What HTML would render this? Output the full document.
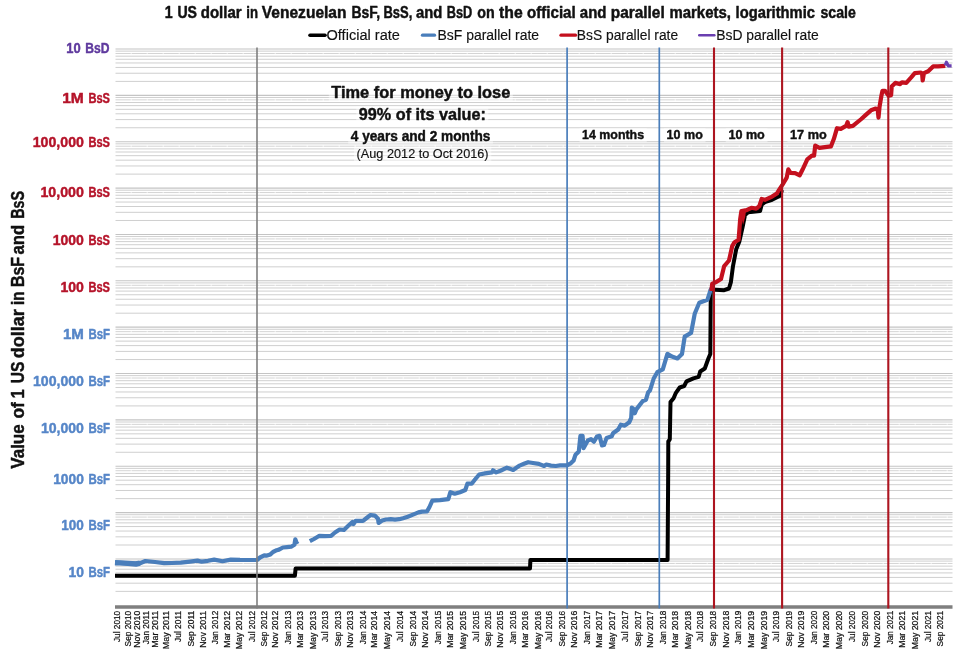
<!DOCTYPE html>
<html><head><meta charset="utf-8"><title>1 US dollar in Venezuelan BsF, BsS, and BsD</title>
<style>html,body{margin:0;padding:0;background:#fff;}body{width:960px;height:657px;overflow:hidden;font-family:"Liberation Sans",sans-serif;}svg{display:block;will-change:transform;}text{font-family:"Liberation Sans",sans-serif;}</style>
</head><body>
<svg width="960" height="657" viewBox="0 0 960 657">
<rect x="0" y="0" width="960" height="657" fill="#ffffff"/>
<g stroke="#cfcfcf" stroke-width="1" fill="none">
<line x1="115.5" x2="952.5" y1="591.36" y2="591.36"/>
<line x1="115.5" x2="952.5" y1="583.20" y2="583.20"/>
<line x1="115.5" x2="952.5" y1="577.41" y2="577.41"/>
<line x1="115.5" x2="952.5" y1="572.92" y2="572.92"/>
<line x1="115.5" x2="952.5" y1="569.24" y2="569.24"/>
<line x1="115.5" x2="952.5" y1="566.14" y2="566.14"/>
<line x1="115.5" x2="952.5" y1="563.45" y2="563.45" stroke-dasharray="15.3 0.7" stroke="#d4d4d4"/>
<line x1="115.5" x2="952.5" y1="561.08" y2="561.08"/>
<line x1="115.5" x2="952.5" y1="545.00" y2="545.00"/>
<line x1="115.5" x2="952.5" y1="536.84" y2="536.84"/>
<line x1="115.5" x2="952.5" y1="531.05" y2="531.05"/>
<line x1="115.5" x2="952.5" y1="526.56" y2="526.56"/>
<line x1="115.5" x2="952.5" y1="522.88" y2="522.88"/>
<line x1="115.5" x2="952.5" y1="519.78" y2="519.78"/>
<line x1="115.5" x2="952.5" y1="517.09" y2="517.09" stroke-dasharray="15.3 0.7" stroke="#d4d4d4"/>
<line x1="115.5" x2="952.5" y1="514.72" y2="514.72"/>
<line x1="115.5" x2="952.5" y1="498.64" y2="498.64"/>
<line x1="115.5" x2="952.5" y1="490.48" y2="490.48"/>
<line x1="115.5" x2="952.5" y1="484.69" y2="484.69"/>
<line x1="115.5" x2="952.5" y1="480.20" y2="480.20"/>
<line x1="115.5" x2="952.5" y1="476.52" y2="476.52"/>
<line x1="115.5" x2="952.5" y1="473.42" y2="473.42"/>
<line x1="115.5" x2="952.5" y1="470.73" y2="470.73" stroke-dasharray="15.3 0.7" stroke="#d4d4d4"/>
<line x1="115.5" x2="952.5" y1="468.36" y2="468.36"/>
<line x1="115.5" x2="952.5" y1="452.28" y2="452.28"/>
<line x1="115.5" x2="952.5" y1="444.12" y2="444.12"/>
<line x1="115.5" x2="952.5" y1="438.33" y2="438.33"/>
<line x1="115.5" x2="952.5" y1="433.84" y2="433.84"/>
<line x1="115.5" x2="952.5" y1="430.16" y2="430.16"/>
<line x1="115.5" x2="952.5" y1="427.06" y2="427.06"/>
<line x1="115.5" x2="952.5" y1="424.37" y2="424.37" stroke-dasharray="15.3 0.7" stroke="#d4d4d4"/>
<line x1="115.5" x2="952.5" y1="422.00" y2="422.00"/>
<line x1="115.5" x2="952.5" y1="405.92" y2="405.92"/>
<line x1="115.5" x2="952.5" y1="397.76" y2="397.76"/>
<line x1="115.5" x2="952.5" y1="391.97" y2="391.97"/>
<line x1="115.5" x2="952.5" y1="387.48" y2="387.48"/>
<line x1="115.5" x2="952.5" y1="383.80" y2="383.80"/>
<line x1="115.5" x2="952.5" y1="380.70" y2="380.70"/>
<line x1="115.5" x2="952.5" y1="378.01" y2="378.01" stroke-dasharray="15.3 0.7" stroke="#d4d4d4"/>
<line x1="115.5" x2="952.5" y1="375.64" y2="375.64"/>
<line x1="115.5" x2="952.5" y1="359.56" y2="359.56"/>
<line x1="115.5" x2="952.5" y1="351.40" y2="351.40"/>
<line x1="115.5" x2="952.5" y1="345.61" y2="345.61"/>
<line x1="115.5" x2="952.5" y1="341.12" y2="341.12"/>
<line x1="115.5" x2="952.5" y1="337.44" y2="337.44"/>
<line x1="115.5" x2="952.5" y1="334.34" y2="334.34"/>
<line x1="115.5" x2="952.5" y1="331.65" y2="331.65" stroke-dasharray="15.3 0.7" stroke="#d4d4d4"/>
<line x1="115.5" x2="952.5" y1="329.28" y2="329.28"/>
<line x1="115.5" x2="952.5" y1="313.20" y2="313.20"/>
<line x1="115.5" x2="952.5" y1="305.04" y2="305.04"/>
<line x1="115.5" x2="952.5" y1="299.25" y2="299.25"/>
<line x1="115.5" x2="952.5" y1="294.76" y2="294.76"/>
<line x1="115.5" x2="952.5" y1="291.08" y2="291.08"/>
<line x1="115.5" x2="952.5" y1="287.98" y2="287.98"/>
<line x1="115.5" x2="952.5" y1="285.29" y2="285.29" stroke-dasharray="15.3 0.7" stroke="#d4d4d4"/>
<line x1="115.5" x2="952.5" y1="282.92" y2="282.92"/>
<line x1="115.5" x2="952.5" y1="266.84" y2="266.84"/>
<line x1="115.5" x2="952.5" y1="258.68" y2="258.68"/>
<line x1="115.5" x2="952.5" y1="252.89" y2="252.89"/>
<line x1="115.5" x2="952.5" y1="248.40" y2="248.40"/>
<line x1="115.5" x2="952.5" y1="244.72" y2="244.72"/>
<line x1="115.5" x2="952.5" y1="241.62" y2="241.62"/>
<line x1="115.5" x2="952.5" y1="238.93" y2="238.93" stroke-dasharray="15.3 0.7" stroke="#d4d4d4"/>
<line x1="115.5" x2="952.5" y1="236.56" y2="236.56"/>
<line x1="115.5" x2="952.5" y1="220.48" y2="220.48"/>
<line x1="115.5" x2="952.5" y1="212.32" y2="212.32"/>
<line x1="115.5" x2="952.5" y1="206.53" y2="206.53"/>
<line x1="115.5" x2="952.5" y1="202.04" y2="202.04"/>
<line x1="115.5" x2="952.5" y1="198.36" y2="198.36"/>
<line x1="115.5" x2="952.5" y1="195.26" y2="195.26"/>
<line x1="115.5" x2="952.5" y1="192.57" y2="192.57" stroke-dasharray="15.3 0.7" stroke="#d4d4d4"/>
<line x1="115.5" x2="952.5" y1="190.20" y2="190.20"/>
<line x1="115.5" x2="952.5" y1="174.12" y2="174.12"/>
<line x1="115.5" x2="952.5" y1="165.96" y2="165.96"/>
<line x1="115.5" x2="952.5" y1="160.17" y2="160.17"/>
<line x1="115.5" x2="952.5" y1="155.68" y2="155.68"/>
<line x1="115.5" x2="952.5" y1="152.00" y2="152.00"/>
<line x1="115.5" x2="952.5" y1="148.90" y2="148.90"/>
<line x1="115.5" x2="952.5" y1="146.21" y2="146.21" stroke-dasharray="15.3 0.7" stroke="#d4d4d4"/>
<line x1="115.5" x2="952.5" y1="143.84" y2="143.84"/>
<line x1="115.5" x2="952.5" y1="127.76" y2="127.76"/>
<line x1="115.5" x2="952.5" y1="119.60" y2="119.60"/>
<line x1="115.5" x2="952.5" y1="113.81" y2="113.81"/>
<line x1="115.5" x2="952.5" y1="109.32" y2="109.32"/>
<line x1="115.5" x2="952.5" y1="105.64" y2="105.64"/>
<line x1="115.5" x2="952.5" y1="102.54" y2="102.54"/>
<line x1="115.5" x2="952.5" y1="99.85" y2="99.85" stroke-dasharray="15.3 0.7" stroke="#d4d4d4"/>
<line x1="115.5" x2="952.5" y1="97.48" y2="97.48"/>
<line x1="115.5" x2="952.5" y1="81.40" y2="81.40"/>
<line x1="115.5" x2="952.5" y1="73.24" y2="73.24"/>
<line x1="115.5" x2="952.5" y1="67.45" y2="67.45"/>
<line x1="115.5" x2="952.5" y1="62.96" y2="62.96"/>
<line x1="115.5" x2="952.5" y1="59.28" y2="59.28"/>
<line x1="115.5" x2="952.5" y1="56.18" y2="56.18"/>
<line x1="115.5" x2="952.5" y1="53.49" y2="53.49" stroke-dasharray="15.3 0.7" stroke="#d4d4d4"/>
<line x1="115.5" x2="952.5" y1="51.12" y2="51.12"/>
</g>
<g stroke="#c4c4c4" stroke-width="1.1" fill="none">
<line x1="115.5" x2="952.5" y1="558.96" y2="558.96"/>
<line x1="115.5" x2="952.5" y1="512.60" y2="512.60"/>
<line x1="115.5" x2="952.5" y1="466.24" y2="466.24"/>
<line x1="115.5" x2="952.5" y1="419.88" y2="419.88"/>
<line x1="115.5" x2="952.5" y1="373.52" y2="373.52"/>
<line x1="115.5" x2="952.5" y1="327.16" y2="327.16"/>
<line x1="115.5" x2="952.5" y1="280.80" y2="280.80"/>
<line x1="115.5" x2="952.5" y1="234.44" y2="234.44"/>
<line x1="115.5" x2="952.5" y1="188.08" y2="188.08"/>
<line x1="115.5" x2="952.5" y1="141.72" y2="141.72"/>
<line x1="115.5" x2="952.5" y1="95.36" y2="95.36"/>
<line x1="115.5" x2="952.5" y1="49.00" y2="49.00"/>
</g>
<polyline points="115.0,575.7 294.9,575.7 295.6,568.5 530.0,568.5 530.4,559.9 667.6,559.9 668.2,470.0 668.3,441.5 669.8,439.3 670.5,402.0 673.6,398.2 675.9,392.8 679.7,387.5 684.2,386.0 686.5,381.4 693.4,378.4 698.7,376.8 700.2,371.5 704.8,368.5 708.4,358.5 710.3,353.9 710.8,289.6 724.2,290.2 729.0,288.5 730.9,282.1 733.0,266.1 736.2,249.3 739.4,241.4 742.6,227.0 744.2,219.0 745.0,215.0 748.2,212.3 760.1,211.0 761.7,204.6 764.9,202.2 772.1,199.8 780.1,195.8 782.0,190.0" fill="none" stroke="#000000" stroke-width="4.0" stroke-linejoin="round" stroke-linecap="butt"/>
<polyline points="115.0,562.7 120.0,562.9 128.0,563.4 136.0,564.0 140.0,563.2" fill="none" stroke="#4a7ebb" stroke-width="5.4" stroke-linejoin="round" stroke-linecap="butt"/>
<polyline points="115.0,562.7 125.0,563.2 135.0,563.9 140.0,563.2 145.4,561.0 155.0,562.0 164.2,563.1 172.0,563.0 180.8,562.7 190.0,561.6 197.5,560.6 201.7,561.7 208.0,560.8 214.2,559.6 222.5,561.2 230.8,559.6 240.0,559.9 251.7,560.0 256.9,560.0 260.0,557.5 264.2,555.4 267.0,555.6 270.4,554.4 273.0,552.0 276.7,550.2 279.0,549.6 282.9,547.5 287.0,547.1 291.2,546.7 294.4,544.8 295.3,539.3 296.3,542.0 297.5,544.0" fill="none" stroke="#4a7ebb" stroke-width="4.2" stroke-linejoin="round" stroke-linecap="butt"/>
<polyline points="309.8,541.2 314.0,539.0 319.4,535.8 325.0,536.2 331.1,535.8 335.0,532.5 339.6,529.5 343.9,529.9 348.0,526.0 352.4,522.0 353.5,524.0 355.6,520.9 363.0,520.9 366.0,518.5 370.5,515.0 374.8,515.6 378.0,518.8 378.6,523.0 382.2,520.5 386.0,519.5 390.8,519.2 395.0,519.6 399.3,519.2 403.0,518.2 407.8,516.7 413.0,514.6 418.4,512.4 422.0,511.6 427.0,511.4 429.5,507.0 432.3,500.7 440.0,500.2 448.3,499.2 450.4,492.2 454.7,493.7 460.0,492.2 465.3,490.0 467.4,483.7 471.7,483.7 475.0,479.5 479.2,474.5 485.0,473.4 492.0,472.4 493.0,470.3 496.2,472.4 501.0,470.5 506.9,467.7 513.2,469.9 516.0,468.0 519.6,465.6 524.0,463.8 528.2,462.2 533.0,463.0 538.8,463.9 544.1,466.0 546.3,464.5 551.0,465.6 555.8,466.0 560.0,465.4 567.1,465.3 571.0,463.1 573.6,460.5 575.5,454.7 578.8,451.4 580.4,435.9 582.6,435.9 583.5,448.2 587.8,440.5 591.0,439.2 593.9,441.7 596.9,436.6 599.5,435.9 602.0,445.4 604.0,445.0 606.6,437.9 611.7,436.3 613.0,433.3 618.2,429.5 620.8,424.7 624.7,425.6 629.2,422.3 631.2,417.8 631.8,407.5 634.0,409.4 634.8,413.3 636.3,409.4 642.8,401.0 646.0,399.7 648.2,392.2 650.0,390.4 653.7,378.5 657.3,372.2 662.8,369.4 667.4,353.9 671.9,356.6 677.4,358.5 682.0,353.9 684.7,336.6 691.1,332.9 694.7,313.8 699.3,302.8 707.5,299.7 710.3,290.9 711.3,288.3" fill="none" stroke="#4a7ebb" stroke-width="4.2" stroke-linejoin="round" stroke-linecap="butt"/>
<polyline points="711.4,290.9 712.2,283.7 716.2,282.1 721.0,278.9 724.2,266.1 729.0,260.5 732.2,246.2 734.6,242.2 738.6,239.8 740.2,219.0 741.4,211.0 746.6,210.2 751.4,207.8 756.2,208.6 759.3,206.2 761.7,199.0 764.9,199.8 772.1,196.6 776.9,193.5 779.1,189.8 782.2,185.2 786.7,177.6 788.3,169.3 790.5,172.8 795.1,173.1 799.7,175.3 802.7,169.3 807.3,159.4 811.9,155.6 814.1,155.6 815.2,145.7 819.5,147.9 825.0,147.2 830.9,146.4 833.9,138.8 837.0,128.2 840.8,128.9 846.1,125.9 847.6,122.1 848.8,126.6 852.9,125.9 861.3,119.0 866.1,114.6 871.0,110.3 875.8,108.5 877.7,109.7 878.5,117.6 879.5,107.2 881.3,96.3 882.5,90.8 885.0,90.8 888.6,95.7 891.1,95.1 891.7,86.5 895.3,82.9 900.2,84.1 902.0,82.3 906.3,82.9 911.2,77.4 914.8,73.1 920.9,72.5 922.1,73.8 922.7,80.5 923.9,73.1 928.2,71.3 933.1,66.4 938.0,66.4 945.3,65.8" fill="none" stroke="#c4101e" stroke-width="4.2" stroke-linejoin="round" stroke-linecap="butt"/>
<polygon points="740.6,212.5 746,210.5 745.2,217 743,225" fill="#c4101e"/>
<polyline points="945.3,65.4 946.4,62.2 948.3,65.8 951.6,65.8" fill="none" stroke="#6a3fb0" stroke-width="3.2" stroke-linejoin="round" stroke-linecap="butt"/>
<line x1="115.0" x2="952.5" y1="607.0" y2="607.0" stroke="#7f7f7f" stroke-width="3.5"/>
<line x1="257.0" x2="257.0" y1="47.5" y2="608.6" stroke="#7f7f7f" stroke-width="1.6"/>
<line x1="567.1" x2="567.1" y1="47.5" y2="608.6" stroke="#4a7ebb" stroke-width="1.7"/>
<line x1="659.3" x2="659.3" y1="47.5" y2="608.6" stroke="#4a7ebb" stroke-width="1.7"/>
<line x1="714.0" x2="714.0" y1="47.5" y2="608.6" stroke="#ad1520" stroke-width="2.1"/>
<line x1="782.1" x2="782.1" y1="47.5" y2="608.6" stroke="#ad1520" stroke-width="2.1"/>
<line x1="888.3" x2="888.3" y1="47.5" y2="608.6" stroke="#ad1520" stroke-width="2.1"/>
<text x="164.8" y="18.1" font-size="15.6" font-weight="bold" fill="#111" stroke="#111" stroke-width="0.45" stroke-linejoin="round" text-anchor="start" textLength="7.9" lengthAdjust="spacingAndGlyphs">1</text>
<text x="177.4" y="18.1" font-size="15.6" font-weight="bold" fill="#111" stroke="#111" stroke-width="0.45" stroke-linejoin="round" text-anchor="start" textLength="19.6" lengthAdjust="spacingAndGlyphs">US</text>
<text x="200.75" y="18.1" font-size="15.6" font-weight="bold" fill="#111" stroke="#111" stroke-width="0.45" stroke-linejoin="round" text-anchor="start" textLength="40.85" lengthAdjust="spacingAndGlyphs">dollar</text>
<text x="246.3" y="18.1" font-size="15.6" font-weight="bold" fill="#111" stroke="#111" stroke-width="0.45" stroke-linejoin="round" text-anchor="start" textLength="11.7" lengthAdjust="spacingAndGlyphs">in</text>
<text x="261.8" y="18.1" font-size="15.6" font-weight="bold" fill="#111" stroke="#111" stroke-width="0.45" stroke-linejoin="round" text-anchor="start" textLength="84.7" lengthAdjust="spacingAndGlyphs">Venezuelan</text>
<text x="351.5" y="18.1" font-size="15.6" font-weight="bold" fill="#111" stroke="#111" stroke-width="0.45" stroke-linejoin="round" text-anchor="start" textLength="28.6" lengthAdjust="spacingAndGlyphs">BsF,</text>
<text x="383.5" y="18.1" font-size="15.6" font-weight="bold" fill="#111" stroke="#111" stroke-width="0.45" stroke-linejoin="round" text-anchor="start" textLength="28.8" lengthAdjust="spacingAndGlyphs">BsS,</text>
<text x="416.0" y="18.1" font-size="15.6" font-weight="bold" fill="#111" stroke="#111" stroke-width="0.45" stroke-linejoin="round" text-anchor="start" textLength="26.3" lengthAdjust="spacingAndGlyphs">and</text>
<text x="446.8" y="18.1" font-size="15.6" font-weight="bold" fill="#111" stroke="#111" stroke-width="0.45" stroke-linejoin="round" text-anchor="start" textLength="25.5" lengthAdjust="spacingAndGlyphs">BsD</text>
<text x="477.3" y="18.1" font-size="15.6" font-weight="bold" fill="#111" stroke="#111" stroke-width="0.45" stroke-linejoin="round" text-anchor="start" textLength="17.4" lengthAdjust="spacingAndGlyphs">on</text>
<text x="499.1" y="18.1" font-size="15.6" font-weight="bold" fill="#111" stroke="#111" stroke-width="0.45" stroke-linejoin="round" text-anchor="start" textLength="23.6" lengthAdjust="spacingAndGlyphs">the</text>
<text x="527.1" y="18.1" font-size="15.6" font-weight="bold" fill="#111" stroke="#111" stroke-width="0.45" stroke-linejoin="round" text-anchor="start" textLength="48.6" lengthAdjust="spacingAndGlyphs">official</text>
<text x="579.8" y="18.1" font-size="15.6" font-weight="bold" fill="#111" stroke="#111" stroke-width="0.45" stroke-linejoin="round" text-anchor="start" textLength="26.7" lengthAdjust="spacingAndGlyphs">and</text>
<text x="610.75" y="18.1" font-size="15.6" font-weight="bold" fill="#111" stroke="#111" stroke-width="0.45" stroke-linejoin="round" text-anchor="start" textLength="53.95" lengthAdjust="spacingAndGlyphs">parallel</text>
<text x="669.4" y="18.1" font-size="15.6" font-weight="bold" fill="#111" stroke="#111" stroke-width="0.45" stroke-linejoin="round" text-anchor="start" textLength="61.5" lengthAdjust="spacingAndGlyphs">markets,</text>
<text x="735.6" y="18.1" font-size="15.6" font-weight="bold" fill="#111" stroke="#111" stroke-width="0.45" stroke-linejoin="round" text-anchor="start" textLength="79.4" lengthAdjust="spacingAndGlyphs">logarithmic</text>
<text x="820.5" y="18.1" font-size="15.6" font-weight="bold" fill="#111" stroke="#111" stroke-width="0.45" stroke-linejoin="round" text-anchor="start" textLength="35.3" lengthAdjust="spacingAndGlyphs">scale</text>
<line x1="310" x2="325" y1="35.2" y2="35.2" stroke="#000000" stroke-width="3.6" stroke-linecap="round"/>
<text x="326.5" y="39.7" font-size="15.2" font-weight="normal" fill="#111" stroke="#111" stroke-width="0.15" stroke-linejoin="round" text-anchor="start" textLength="73.4" lengthAdjust="spacingAndGlyphs">Official rate</text>
<line x1="422.5" x2="434.5" y1="35.2" y2="35.2" stroke="#4a7ebb" stroke-width="3.3" stroke-linecap="round"/>
<text x="437.5" y="39.7" font-size="15.2" font-weight="normal" fill="#111" stroke="#111" stroke-width="0.15" stroke-linejoin="round" text-anchor="start" textLength="101.6" lengthAdjust="spacingAndGlyphs">BsF parallel rate</text>
<line x1="561" x2="575.5" y1="35.2" y2="35.2" stroke="#c4101e" stroke-width="3.3" stroke-linecap="round"/>
<text x="576.8000000000001" y="39.7" font-size="15.2" font-weight="normal" fill="#111" stroke="#111" stroke-width="0.15" stroke-linejoin="round" text-anchor="start" textLength="101.3" lengthAdjust="spacingAndGlyphs">BsS parallel rate</text>
<line x1="699.2" x2="714.4" y1="35.2" y2="35.2" stroke="#6a3fb0" stroke-width="2.4" stroke-linecap="round"/>
<text x="716.2" y="39.7" font-size="15.2" font-weight="normal" fill="#111" stroke="#111" stroke-width="0.15" stroke-linejoin="round" text-anchor="start" textLength="102.6" lengthAdjust="spacingAndGlyphs">BsD parallel rate</text>
<text x="66.2" y="53.1" font-size="14.5" font-weight="bold" fill="#5f3a9e" stroke="#5f3a9e" stroke-width="0.45" stroke-linejoin="round" text-anchor="start" textLength="14.4" lengthAdjust="spacingAndGlyphs">10</text>
<text x="85.3" y="53.1" font-size="14.5" font-weight="bold" fill="#5f3a9e" stroke="#5f3a9e" stroke-width="0.45" stroke-linejoin="round" text-anchor="start" textLength="24.2" lengthAdjust="spacingAndGlyphs">BsD</text>
<text x="62.2" y="103.2" font-size="14.5" font-weight="bold" fill="#b5142a" stroke="#b5142a" stroke-width="0.45" stroke-linejoin="round" text-anchor="start" textLength="21.7" lengthAdjust="spacingAndGlyphs">1M</text>
<text x="88.4" y="103.2" font-size="14.5" font-weight="bold" fill="#b5142a" stroke="#b5142a" stroke-width="0.45" stroke-linejoin="round" text-anchor="start" textLength="21.6" lengthAdjust="spacingAndGlyphs">BsS</text>
<text x="32.7" y="146.9" font-size="14.5" font-weight="bold" fill="#b5142a" stroke="#b5142a" stroke-width="0.45" stroke-linejoin="round" text-anchor="start" textLength="51.2" lengthAdjust="spacingAndGlyphs">100,000</text>
<text x="88.4" y="146.9" font-size="14.5" font-weight="bold" fill="#b5142a" stroke="#b5142a" stroke-width="0.45" stroke-linejoin="round" text-anchor="start" textLength="21.6" lengthAdjust="spacingAndGlyphs">BsS</text>
<text x="40.45" y="197" font-size="14.5" font-weight="bold" fill="#b5142a" stroke="#b5142a" stroke-width="0.45" stroke-linejoin="round" text-anchor="start" textLength="43.5" lengthAdjust="spacingAndGlyphs">10,000</text>
<text x="88.4" y="197" font-size="14.5" font-weight="bold" fill="#b5142a" stroke="#b5142a" stroke-width="0.45" stroke-linejoin="round" text-anchor="start" textLength="21.6" lengthAdjust="spacingAndGlyphs">BsS</text>
<text x="52.7" y="244.5" font-size="14.5" font-weight="bold" fill="#b5142a" stroke="#b5142a" stroke-width="0.45" stroke-linejoin="round" text-anchor="start" textLength="31.2" lengthAdjust="spacingAndGlyphs">1000</text>
<text x="88.4" y="244.5" font-size="14.5" font-weight="bold" fill="#b5142a" stroke="#b5142a" stroke-width="0.45" stroke-linejoin="round" text-anchor="start" textLength="21.6" lengthAdjust="spacingAndGlyphs">BsS</text>
<text x="60.45" y="292" font-size="14.5" font-weight="bold" fill="#b5142a" stroke="#b5142a" stroke-width="0.45" stroke-linejoin="round" text-anchor="start" textLength="23.5" lengthAdjust="spacingAndGlyphs">100</text>
<text x="88.4" y="292" font-size="14.5" font-weight="bold" fill="#b5142a" stroke="#b5142a" stroke-width="0.45" stroke-linejoin="round" text-anchor="start" textLength="21.6" lengthAdjust="spacingAndGlyphs">BsS</text>
<text x="62.95" y="338.75" font-size="14.5" font-weight="bold" fill="#5686c8" stroke="#5686c8" stroke-width="0.45" stroke-linejoin="round" text-anchor="start" textLength="21.0" lengthAdjust="spacingAndGlyphs">1M</text>
<text x="88.4" y="338.75" font-size="14.5" font-weight="bold" fill="#5686c8" stroke="#5686c8" stroke-width="0.45" stroke-linejoin="round" text-anchor="start" textLength="21.6" lengthAdjust="spacingAndGlyphs">BsF</text>
<text x="32.95" y="386.25" font-size="14.5" font-weight="bold" fill="#5686c8" stroke="#5686c8" stroke-width="0.45" stroke-linejoin="round" text-anchor="start" textLength="51.0" lengthAdjust="spacingAndGlyphs">100,000</text>
<text x="88.4" y="386.25" font-size="14.5" font-weight="bold" fill="#5686c8" stroke="#5686c8" stroke-width="0.45" stroke-linejoin="round" text-anchor="start" textLength="21.6" lengthAdjust="spacingAndGlyphs">BsF</text>
<text x="40.95" y="432.5" font-size="14.5" font-weight="bold" fill="#5686c8" stroke="#5686c8" stroke-width="0.45" stroke-linejoin="round" text-anchor="start" textLength="43.0" lengthAdjust="spacingAndGlyphs">10,000</text>
<text x="88.4" y="432.5" font-size="14.5" font-weight="bold" fill="#5686c8" stroke="#5686c8" stroke-width="0.45" stroke-linejoin="round" text-anchor="start" textLength="21.6" lengthAdjust="spacingAndGlyphs">BsF</text>
<text x="53.2" y="484" font-size="14.5" font-weight="bold" fill="#5686c8" stroke="#5686c8" stroke-width="0.45" stroke-linejoin="round" text-anchor="start" textLength="30.7" lengthAdjust="spacingAndGlyphs">1000</text>
<text x="88.4" y="484" font-size="14.5" font-weight="bold" fill="#5686c8" stroke="#5686c8" stroke-width="0.45" stroke-linejoin="round" text-anchor="start" textLength="21.6" lengthAdjust="spacingAndGlyphs">BsF</text>
<text x="61.3" y="530.3" font-size="14.5" font-weight="bold" fill="#5686c8" stroke="#5686c8" stroke-width="0.45" stroke-linejoin="round" text-anchor="start" textLength="22.6" lengthAdjust="spacingAndGlyphs">100</text>
<text x="88.4" y="530.3" font-size="14.5" font-weight="bold" fill="#5686c8" stroke="#5686c8" stroke-width="0.45" stroke-linejoin="round" text-anchor="start" textLength="21.6" lengthAdjust="spacingAndGlyphs">BsF</text>
<text x="68.5" y="576.6" font-size="14.5" font-weight="bold" fill="#5686c8" stroke="#5686c8" stroke-width="0.45" stroke-linejoin="round" text-anchor="start" textLength="15.4" lengthAdjust="spacingAndGlyphs">10</text>
<text x="88.4" y="576.6" font-size="14.5" font-weight="bold" fill="#5686c8" stroke="#5686c8" stroke-width="0.45" stroke-linejoin="round" text-anchor="start" textLength="21.6" lengthAdjust="spacingAndGlyphs">BsF</text>
<text x="23.6" y="468.8" font-size="18.4" font-weight="bold" fill="#111" stroke="#111" stroke-width="0.45" stroke-linejoin="round" text-anchor="start" textLength="44.6" lengthAdjust="spacingAndGlyphs" transform="rotate(-90 23.6 468.8)">Value</text>
<text x="23.6" y="418.5" font-size="18.4" font-weight="bold" fill="#111" stroke="#111" stroke-width="0.45" stroke-linejoin="round" text-anchor="start" textLength="16.4" lengthAdjust="spacingAndGlyphs" transform="rotate(-90 23.6 418.5)">of</text>
<text x="23.6" y="398.5" font-size="18.4" font-weight="bold" fill="#111" stroke="#111" stroke-width="0.45" stroke-linejoin="round" text-anchor="start" textLength="9.3" lengthAdjust="spacingAndGlyphs" transform="rotate(-90 23.6 398.5)">1</text>
<text x="23.6" y="383.3" font-size="18.4" font-weight="bold" fill="#111" stroke="#111" stroke-width="0.45" stroke-linejoin="round" text-anchor="start" textLength="21.7" lengthAdjust="spacingAndGlyphs" transform="rotate(-90 23.6 383.3)">US</text>
<text x="23.6" y="358.2" font-size="18.4" font-weight="bold" fill="#111" stroke="#111" stroke-width="0.45" stroke-linejoin="round" text-anchor="start" textLength="49.1" lengthAdjust="spacingAndGlyphs" transform="rotate(-90 23.6 358.2)">dollar</text>
<text x="23.6" y="305.0" font-size="18.4" font-weight="bold" fill="#111" stroke="#111" stroke-width="0.45" stroke-linejoin="round" text-anchor="start" textLength="13.4" lengthAdjust="spacingAndGlyphs" transform="rotate(-90 23.6 305.0)">in</text>
<text x="23.6" y="287.0" font-size="18.4" font-weight="bold" fill="#111" stroke="#111" stroke-width="0.45" stroke-linejoin="round" text-anchor="start" textLength="30.1" lengthAdjust="spacingAndGlyphs" transform="rotate(-90 23.6 287.0)">BsF</text>
<text x="23.6" y="254.6" font-size="18.4" font-weight="bold" fill="#111" stroke="#111" stroke-width="0.45" stroke-linejoin="round" text-anchor="start" textLength="29.7" lengthAdjust="spacingAndGlyphs" transform="rotate(-90 23.6 254.6)">and</text>
<text x="23.6" y="218.8" font-size="18.4" font-weight="bold" fill="#111" stroke="#111" stroke-width="0.45" stroke-linejoin="round" text-anchor="start" textLength="27.8" lengthAdjust="spacingAndGlyphs" transform="rotate(-90 23.6 218.8)">BsS</text>
<rect x="328.8" y="84.7" width="184.0" height="16.799999999999997" fill="#fff" fill-opacity="0.45"/>
<rect x="356.3" y="106.5" width="132.0" height="17" fill="#fff" fill-opacity="0.45"/>
<rect x="348.2" y="128.9" width="144.7" height="14.900000000000006" fill="#fff" fill-opacity="0.45"/>
<rect x="354" y="146.5" width="137.3" height="15.199999999999989" fill="#fff" fill-opacity="0.45"/>
<rect x="579.5" y="128.0" width="67.25" height="14.25" fill="#fff" fill-opacity="0.45"/>
<rect x="664" y="128.0" width="41.5" height="14.25" fill="#fff" fill-opacity="0.45"/>
<rect x="725.75" y="128.0" width="41.75" height="14.25" fill="#fff" fill-opacity="0.45"/>
<rect x="787.4" y="127.9" width="42.0" height="14.299999999999983" fill="#fff" fill-opacity="0.45"/>
<text x="331.3" y="98" font-size="16.3" font-weight="bold" fill="#111" stroke="#111" stroke-width="0.45" stroke-linejoin="round" text-anchor="start" textLength="179" lengthAdjust="spacingAndGlyphs">Time for money to lose</text>
<text x="358.8" y="120.4" font-size="16.5" font-weight="bold" fill="#111" stroke="#111" stroke-width="0.45" stroke-linejoin="round" text-anchor="start" textLength="127" lengthAdjust="spacingAndGlyphs">99% of its value:</text>
<text x="350.8" y="140.9" font-size="14.4" font-weight="bold" fill="#111" stroke="#111" stroke-width="0.45" stroke-linejoin="round" text-anchor="start" textLength="139.6" lengthAdjust="spacingAndGlyphs">4 years and 2 months</text>
<text x="356.6" y="158.4" font-size="13.2" font-weight="normal" fill="#111" stroke="#111" stroke-width="0.15" stroke-linejoin="round" text-anchor="start" textLength="132" lengthAdjust="spacingAndGlyphs">(Aug 2012 to Oct 2016)</text>
<text x="582.1" y="139.2" font-size="13.6" font-weight="bold" fill="#111" stroke="#111" stroke-width="0.45" stroke-linejoin="round" text-anchor="start" textLength="62" lengthAdjust="spacingAndGlyphs">14 months</text>
<text x="666.6" y="139.2" font-size="13.6" font-weight="bold" fill="#111" stroke="#111" stroke-width="0.45" stroke-linejoin="round" text-anchor="start" textLength="36.2" lengthAdjust="spacingAndGlyphs">10 mo</text>
<text x="728.4" y="139.2" font-size="13.6" font-weight="bold" fill="#111" stroke="#111" stroke-width="0.45" stroke-linejoin="round" text-anchor="start" textLength="36.4" lengthAdjust="spacingAndGlyphs">10 mo</text>
<text x="790.0" y="139.2" font-size="13.6" font-weight="bold" fill="#111" stroke="#111" stroke-width="0.45" stroke-linejoin="round" text-anchor="start" textLength="36.7" lengthAdjust="spacingAndGlyphs">17 mo</text>
<text x="119.6" y="610.8" font-size="9.1" fill="#111" stroke="#111" stroke-width="0.22" text-anchor="end" textLength="31.2" lengthAdjust="spacingAndGlyphs" transform="rotate(-90 119.6 610.8)">Jul 2010</text>
<text x="130.85" y="610.8" font-size="9.1" fill="#111" stroke="#111" stroke-width="0.22" text-anchor="end" textLength="35.6" lengthAdjust="spacingAndGlyphs" transform="rotate(-90 130.85 610.8)">Sep 2010</text>
<text x="140.35" y="610.8" font-size="9.1" fill="#111" stroke="#111" stroke-width="0.22" text-anchor="end" textLength="37" lengthAdjust="spacingAndGlyphs" transform="rotate(-90 140.35 610.8)">Nov 2010</text>
<text x="149.35" y="610.8" font-size="9.1" fill="#111" stroke="#111" stroke-width="0.22" text-anchor="end" textLength="33.5" lengthAdjust="spacingAndGlyphs" transform="rotate(-90 149.35 610.8)">Jan 2011</text>
<text x="157.7" y="610.8" font-size="9.1" fill="#111" stroke="#111" stroke-width="0.22" text-anchor="end" textLength="37.0" lengthAdjust="spacingAndGlyphs" transform="rotate(-90 157.7 610.8)">Mar 2011</text>
<text x="169.1" y="610.8" font-size="9.1" fill="#111" stroke="#111" stroke-width="0.22" text-anchor="end" textLength="38.4" lengthAdjust="spacingAndGlyphs" transform="rotate(-90 169.1 610.8)">May 2011</text>
<text x="181.5" y="610.8" font-size="9.1" fill="#111" stroke="#111" stroke-width="0.22" text-anchor="end" textLength="31.2" lengthAdjust="spacingAndGlyphs" transform="rotate(-90 181.5 610.8)">Jul 2011</text>
<text x="193.6" y="610.8" font-size="9.1" fill="#111" stroke="#111" stroke-width="0.22" text-anchor="end" textLength="35.6" lengthAdjust="spacingAndGlyphs" transform="rotate(-90 193.6 610.8)">Sep 2011</text>
<text x="205.9" y="610.8" font-size="9.1" fill="#111" stroke="#111" stroke-width="0.22" text-anchor="end" textLength="37" lengthAdjust="spacingAndGlyphs" transform="rotate(-90 205.9 610.8)">Nov 2011</text>
<text x="217.9" y="610.8" font-size="9.1" fill="#111" stroke="#111" stroke-width="0.22" text-anchor="end" textLength="33.5" lengthAdjust="spacingAndGlyphs" transform="rotate(-90 217.9 610.8)">Jan 2012</text>
<text x="230.1" y="610.8" font-size="9.1" fill="#111" stroke="#111" stroke-width="0.22" text-anchor="end" textLength="37.0" lengthAdjust="spacingAndGlyphs" transform="rotate(-90 230.1 610.8)">Mar 2012</text>
<text x="242.29999999999998" y="610.8" font-size="9.1" fill="#111" stroke="#111" stroke-width="0.22" text-anchor="end" textLength="38.4" lengthAdjust="spacingAndGlyphs" transform="rotate(-90 242.29999999999998 610.8)">May 2012</text>
<text x="254.6" y="610.8" font-size="9.1" fill="#111" stroke="#111" stroke-width="0.22" text-anchor="end" textLength="31.2" lengthAdjust="spacingAndGlyphs" transform="rotate(-90 254.6 610.8)">Jul 2012</text>
<text x="266.70000000000005" y="610.8" font-size="9.1" fill="#111" stroke="#111" stroke-width="0.22" text-anchor="end" textLength="35.6" lengthAdjust="spacingAndGlyphs" transform="rotate(-90 266.70000000000005 610.8)">Sep 2012</text>
<text x="278.5" y="610.8" font-size="9.1" fill="#111" stroke="#111" stroke-width="0.22" text-anchor="end" textLength="37" lengthAdjust="spacingAndGlyphs" transform="rotate(-90 278.5 610.8)">Nov 2012</text>
<text x="290.90000000000003" y="610.8" font-size="9.1" fill="#111" stroke="#111" stroke-width="0.22" text-anchor="end" textLength="33.5" lengthAdjust="spacingAndGlyphs" transform="rotate(-90 290.90000000000003 610.8)">Jan 2013</text>
<text x="303.1" y="610.8" font-size="9.1" fill="#111" stroke="#111" stroke-width="0.22" text-anchor="end" textLength="37.0" lengthAdjust="spacingAndGlyphs" transform="rotate(-90 303.1 610.8)">Mar 2013</text>
<text x="315.6" y="610.8" font-size="9.1" fill="#111" stroke="#111" stroke-width="0.22" text-anchor="end" textLength="38.4" lengthAdjust="spacingAndGlyphs" transform="rotate(-90 315.6 610.8)">May 2013</text>
<text x="328.1" y="610.8" font-size="9.1" fill="#111" stroke="#111" stroke-width="0.22" text-anchor="end" textLength="31.2" lengthAdjust="spacingAndGlyphs" transform="rotate(-90 328.1 610.8)">Jul 2013</text>
<text x="340.6" y="610.8" font-size="9.1" fill="#111" stroke="#111" stroke-width="0.22" text-anchor="end" textLength="35.6" lengthAdjust="spacingAndGlyphs" transform="rotate(-90 340.6 610.8)">Sep 2013</text>
<text x="353.1" y="610.8" font-size="9.1" fill="#111" stroke="#111" stroke-width="0.22" text-anchor="end" textLength="37" lengthAdjust="spacingAndGlyphs" transform="rotate(-90 353.1 610.8)">Nov 2013</text>
<text x="365.6" y="610.8" font-size="9.1" fill="#111" stroke="#111" stroke-width="0.22" text-anchor="end" textLength="33.5" lengthAdjust="spacingAndGlyphs" transform="rotate(-90 365.6 610.8)">Jan 2014</text>
<text x="377.35" y="610.8" font-size="9.1" fill="#111" stroke="#111" stroke-width="0.22" text-anchor="end" textLength="37.0" lengthAdjust="spacingAndGlyphs" transform="rotate(-90 377.35 610.8)">Mar 2014</text>
<text x="389.85" y="610.8" font-size="9.1" fill="#111" stroke="#111" stroke-width="0.22" text-anchor="end" textLength="38.4" lengthAdjust="spacingAndGlyphs" transform="rotate(-90 389.85 610.8)">May 2014</text>
<text x="403.1" y="610.8" font-size="9.1" fill="#111" stroke="#111" stroke-width="0.22" text-anchor="end" textLength="31.2" lengthAdjust="spacingAndGlyphs" transform="rotate(-90 403.1 610.8)">Jul 2014</text>
<text x="415.6" y="610.8" font-size="9.1" fill="#111" stroke="#111" stroke-width="0.22" text-anchor="end" textLength="35.6" lengthAdjust="spacingAndGlyphs" transform="rotate(-90 415.6 610.8)">Sep 2014</text>
<text x="428.1" y="610.8" font-size="9.1" fill="#111" stroke="#111" stroke-width="0.22" text-anchor="end" textLength="37" lengthAdjust="spacingAndGlyphs" transform="rotate(-90 428.1 610.8)">Nov 2014</text>
<text x="441.1" y="610.8" font-size="9.1" fill="#111" stroke="#111" stroke-width="0.22" text-anchor="end" textLength="33.5" lengthAdjust="spacingAndGlyphs" transform="rotate(-90 441.1 610.8)">Jan 2015</text>
<text x="453.1" y="610.8" font-size="9.1" fill="#111" stroke="#111" stroke-width="0.22" text-anchor="end" textLength="37.0" lengthAdjust="spacingAndGlyphs" transform="rotate(-90 453.1 610.8)">Mar 2015</text>
<text x="466.1" y="610.8" font-size="9.1" fill="#111" stroke="#111" stroke-width="0.22" text-anchor="end" textLength="38.4" lengthAdjust="spacingAndGlyphs" transform="rotate(-90 466.1 610.8)">May 2015</text>
<text x="478.85" y="610.8" font-size="9.1" fill="#111" stroke="#111" stroke-width="0.22" text-anchor="end" textLength="31.2" lengthAdjust="spacingAndGlyphs" transform="rotate(-90 478.85 610.8)">Jul 2015</text>
<text x="490.6" y="610.8" font-size="9.1" fill="#111" stroke="#111" stroke-width="0.22" text-anchor="end" textLength="35.6" lengthAdjust="spacingAndGlyphs" transform="rotate(-90 490.6 610.8)">Sep 2015</text>
<text x="503.1" y="610.8" font-size="9.1" fill="#111" stroke="#111" stroke-width="0.22" text-anchor="end" textLength="37" lengthAdjust="spacingAndGlyphs" transform="rotate(-90 503.1 610.8)">Nov 2015</text>
<text x="515.6" y="610.8" font-size="9.1" fill="#111" stroke="#111" stroke-width="0.22" text-anchor="end" textLength="33.5" lengthAdjust="spacingAndGlyphs" transform="rotate(-90 515.6 610.8)">Jan 2016</text>
<text x="528.1" y="610.8" font-size="9.1" fill="#111" stroke="#111" stroke-width="0.22" text-anchor="end" textLength="37.0" lengthAdjust="spacingAndGlyphs" transform="rotate(-90 528.1 610.8)">Mar 2016</text>
<text x="540.6" y="610.8" font-size="9.1" fill="#111" stroke="#111" stroke-width="0.22" text-anchor="end" textLength="38.4" lengthAdjust="spacingAndGlyphs" transform="rotate(-90 540.6 610.8)">May 2016</text>
<text x="552.35" y="610.8" font-size="9.1" fill="#111" stroke="#111" stroke-width="0.22" text-anchor="end" textLength="31.2" lengthAdjust="spacingAndGlyphs" transform="rotate(-90 552.35 610.8)">Jul 2016</text>
<text x="565.1" y="610.8" font-size="9.1" fill="#111" stroke="#111" stroke-width="0.22" text-anchor="end" textLength="35.6" lengthAdjust="spacingAndGlyphs" transform="rotate(-90 565.1 610.8)">Sep 2016</text>
<text x="577.35" y="610.8" font-size="9.1" fill="#111" stroke="#111" stroke-width="0.22" text-anchor="end" textLength="37" lengthAdjust="spacingAndGlyphs" transform="rotate(-90 577.35 610.8)">Nov 2016</text>
<text x="590.1" y="610.8" font-size="9.1" fill="#111" stroke="#111" stroke-width="0.22" text-anchor="end" textLength="33.5" lengthAdjust="spacingAndGlyphs" transform="rotate(-90 590.1 610.8)">Jan 2017</text>
<text x="602.35" y="610.8" font-size="9.1" fill="#111" stroke="#111" stroke-width="0.22" text-anchor="end" textLength="37.0" lengthAdjust="spacingAndGlyphs" transform="rotate(-90 602.35 610.8)">Mar 2017</text>
<text x="615.1" y="610.8" font-size="9.1" fill="#111" stroke="#111" stroke-width="0.22" text-anchor="end" textLength="38.4" lengthAdjust="spacingAndGlyphs" transform="rotate(-90 615.1 610.8)">May 2017</text>
<text x="628.1" y="610.8" font-size="9.1" fill="#111" stroke="#111" stroke-width="0.22" text-anchor="end" textLength="31.2" lengthAdjust="spacingAndGlyphs" transform="rotate(-90 628.1 610.8)">Jul 2017</text>
<text x="640.6" y="610.8" font-size="9.1" fill="#111" stroke="#111" stroke-width="0.22" text-anchor="end" textLength="35.6" lengthAdjust="spacingAndGlyphs" transform="rotate(-90 640.6 610.8)">Sep 2017</text>
<text x="653.1" y="610.8" font-size="9.1" fill="#111" stroke="#111" stroke-width="0.22" text-anchor="end" textLength="37" lengthAdjust="spacingAndGlyphs" transform="rotate(-90 653.1 610.8)">Nov 2017</text>
<text x="665.6" y="610.8" font-size="9.1" fill="#111" stroke="#111" stroke-width="0.22" text-anchor="end" textLength="33.5" lengthAdjust="spacingAndGlyphs" transform="rotate(-90 665.6 610.8)">Jan 2018</text>
<text x="678.1" y="610.8" font-size="9.1" fill="#111" stroke="#111" stroke-width="0.22" text-anchor="end" textLength="37.0" lengthAdjust="spacingAndGlyphs" transform="rotate(-90 678.1 610.8)">Mar 2018</text>
<text x="690.6" y="610.8" font-size="9.1" fill="#111" stroke="#111" stroke-width="0.22" text-anchor="end" textLength="38.4" lengthAdjust="spacingAndGlyphs" transform="rotate(-90 690.6 610.8)">May 2018</text>
<text x="703.1" y="610.8" font-size="9.1" fill="#111" stroke="#111" stroke-width="0.22" text-anchor="end" textLength="31.2" lengthAdjust="spacingAndGlyphs" transform="rotate(-90 703.1 610.8)">Jul 2018</text>
<text x="716.1" y="610.8" font-size="9.1" fill="#111" stroke="#111" stroke-width="0.22" text-anchor="end" textLength="35.6" lengthAdjust="spacingAndGlyphs" transform="rotate(-90 716.1 610.8)">Sep 2018</text>
<text x="728.85" y="610.8" font-size="9.1" fill="#111" stroke="#111" stroke-width="0.22" text-anchor="end" textLength="37" lengthAdjust="spacingAndGlyphs" transform="rotate(-90 728.85 610.8)">Nov 2018</text>
<text x="741.35" y="610.8" font-size="9.1" fill="#111" stroke="#111" stroke-width="0.22" text-anchor="end" textLength="33.5" lengthAdjust="spacingAndGlyphs" transform="rotate(-90 741.35 610.8)">Jan 2019</text>
<text x="753.85" y="610.8" font-size="9.1" fill="#111" stroke="#111" stroke-width="0.22" text-anchor="end" textLength="37.0" lengthAdjust="spacingAndGlyphs" transform="rotate(-90 753.85 610.8)">Mar 2019</text>
<text x="766.6" y="610.8" font-size="9.1" fill="#111" stroke="#111" stroke-width="0.22" text-anchor="end" textLength="38.4" lengthAdjust="spacingAndGlyphs" transform="rotate(-90 766.6 610.8)">May 2019</text>
<text x="779.35" y="610.8" font-size="9.1" fill="#111" stroke="#111" stroke-width="0.22" text-anchor="end" textLength="31.2" lengthAdjust="spacingAndGlyphs" transform="rotate(-90 779.35 610.8)">Jul 2019</text>
<text x="792.0" y="610.8" font-size="9.1" fill="#111" stroke="#111" stroke-width="0.22" text-anchor="end" textLength="35.6" lengthAdjust="spacingAndGlyphs" transform="rotate(-90 792.0 610.8)">Sep 2019</text>
<text x="804.35" y="610.8" font-size="9.1" fill="#111" stroke="#111" stroke-width="0.22" text-anchor="end" textLength="37" lengthAdjust="spacingAndGlyphs" transform="rotate(-90 804.35 610.8)">Nov 2019</text>
<text x="817.35" y="610.8" font-size="9.1" fill="#111" stroke="#111" stroke-width="0.22" text-anchor="end" textLength="33.5" lengthAdjust="spacingAndGlyphs" transform="rotate(-90 817.35 610.8)">Jan 2020</text>
<text x="829.35" y="610.8" font-size="9.1" fill="#111" stroke="#111" stroke-width="0.22" text-anchor="end" textLength="37.0" lengthAdjust="spacingAndGlyphs" transform="rotate(-90 829.35 610.8)">Mar 2020</text>
<text x="842.35" y="610.8" font-size="9.1" fill="#111" stroke="#111" stroke-width="0.22" text-anchor="end" textLength="38.4" lengthAdjust="spacingAndGlyphs" transform="rotate(-90 842.35 610.8)">May 2020</text>
<text x="855.1" y="610.8" font-size="9.1" fill="#111" stroke="#111" stroke-width="0.22" text-anchor="end" textLength="31.2" lengthAdjust="spacingAndGlyphs" transform="rotate(-90 855.1 610.8)">Jul 2020</text>
<text x="867.9" y="610.8" font-size="9.1" fill="#111" stroke="#111" stroke-width="0.22" text-anchor="end" textLength="35.6" lengthAdjust="spacingAndGlyphs" transform="rotate(-90 867.9 610.8)">Sep 2020</text>
<text x="880.4" y="610.8" font-size="9.1" fill="#111" stroke="#111" stroke-width="0.22" text-anchor="end" textLength="37" lengthAdjust="spacingAndGlyphs" transform="rotate(-90 880.4 610.8)">Nov 2020</text>
<text x="893.1" y="610.8" font-size="9.1" fill="#111" stroke="#111" stroke-width="0.22" text-anchor="end" textLength="33.5" lengthAdjust="spacingAndGlyphs" transform="rotate(-90 893.1 610.8)">Jan 2021</text>
<text x="904.85" y="610.8" font-size="9.1" fill="#111" stroke="#111" stroke-width="0.22" text-anchor="end" textLength="37.0" lengthAdjust="spacingAndGlyphs" transform="rotate(-90 904.85 610.8)">Mar 2021</text>
<text x="917.6" y="610.8" font-size="9.1" fill="#111" stroke="#111" stroke-width="0.22" text-anchor="end" textLength="38.4" lengthAdjust="spacingAndGlyphs" transform="rotate(-90 917.6 610.8)">May 2021</text>
<text x="930.6" y="610.8" font-size="9.1" fill="#111" stroke="#111" stroke-width="0.22" text-anchor="end" textLength="31.2" lengthAdjust="spacingAndGlyphs" transform="rotate(-90 930.6 610.8)">Jul 2021</text>
<text x="943.1" y="610.8" font-size="9.1" fill="#111" stroke="#111" stroke-width="0.22" text-anchor="end" textLength="35.6" lengthAdjust="spacingAndGlyphs" transform="rotate(-90 943.1 610.8)">Sep 2021</text>
</svg>
</body></html>
